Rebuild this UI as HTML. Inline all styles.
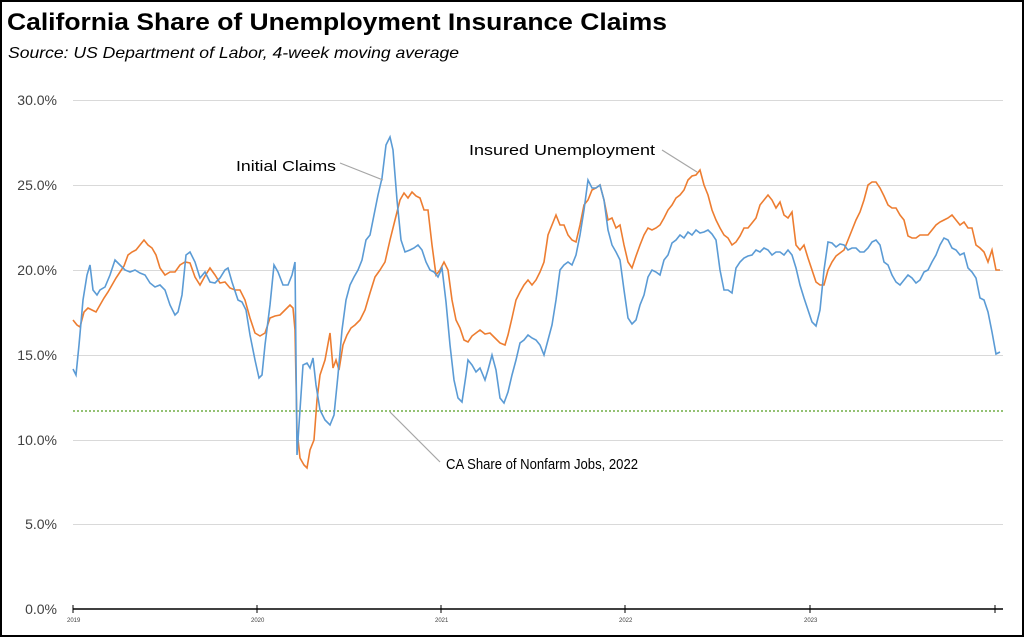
<!DOCTYPE html>
<html><head><meta charset="utf-8"><style>
body{margin:0;background:#fff}
svg{display:block}
text{font-family:"Liberation Sans",sans-serif}
</style></head><body>
<svg width="1024" height="637" viewBox="0 0 1024 637">
<rect x="1" y="1" width="1022" height="635" fill="#fff" stroke="#000" stroke-width="2"/>
<text x="7" y="30" font-size="24" font-weight="bold" textLength="660" lengthAdjust="spacingAndGlyphs">California Share of Unemployment Insurance Claims</text>
<text x="8" y="58" font-size="16" font-style="italic" textLength="451" lengthAdjust="spacingAndGlyphs">Source:  US Department of Labor, 4-week moving average</text>
<g stroke="#d9d9d9" stroke-width="1">
<line x1="73" x2="1003" y1="100.5" y2="100.5"/><line x1="73" x2="1003" y1="185.5" y2="185.5"/>
<line x1="73" x2="1003" y1="270.5" y2="270.5"/><line x1="73" x2="1003" y1="355.5" y2="355.5"/>
<line x1="73" x2="1003" y1="440.5" y2="440.5"/><line x1="73" x2="1003" y1="524.5" y2="524.5"/>
</g>
<g font-size="14" fill="#404040" text-anchor="end">
<text x="57" y="105">30.0%</text><text x="57" y="190">25.0%</text><text x="57" y="275">20.0%</text>
<text x="57" y="360">15.0%</text><text x="57" y="445">10.0%</text><text x="57" y="529">5.0%</text><text x="57" y="614">0.0%</text>
</g>
<line x1="73" x2="1003" y1="609" y2="609" stroke="#404040" stroke-width="2"/>
<g stroke="#000" stroke-width="1"><line x1="73" x2="73" y1="605" y2="613"/><line x1="257" x2="257" y1="605" y2="613"/><line x1="441" x2="441" y1="605" y2="613"/><line x1="625" x2="625" y1="605" y2="613"/><line x1="810" x2="810" y1="605" y2="613"/><line x1="995" x2="995" y1="605" y2="613"/></g>
<g font-size="6" fill="#404040"><text x="67" y="622">2019</text><text x="251" y="622">2020</text><text x="435" y="622">2021</text><text x="619" y="622">2022</text><text x="804" y="622">2023</text></g>
<line x1="73" x2="1003" y1="411" y2="411" stroke="#70ad47" stroke-width="1.5" stroke-dasharray="2,2"/>
<polyline fill="none" stroke="#ed7d31" stroke-width="1.6" points="73,320 77,325 80,327 84,312 88,308 92,310 96,312 100,305 104,298 108,292 112,285 116,278 120,272 124,266 128,255 132,252 136,250 140,245 144,240 148,245 152,248 156,255 160,268 165,275 170,272 175,272 180,265 185,262 190,263 195,277 200,285 205,276 210,268 215,275 220,283 225,282 230,288 235,290 240,290 245,300 250,318 255,333 260,336 265,333 270,318 275,316 280,315 285,310 290,305 293,308 295,330 297,430 300,458 304,465 307,468 310,450 314,440 317,400 320,375 325,360 330,333 333,368 336,360 339,370 343,345 347,335 351,328 355,325 360,320 365,310 370,293 375,277 380,270 385,262 390,240 395,220 400,200 404,193 408,198 412,192 416,196 420,198 424,210 428,210 432,245 436,275 440,270 444,262 448,270 452,300 456,320 460,328 464,340 468,342 472,336 476,333 480,330 485,334 490,333 495,338 500,343 505,345 508,335 512,318 516,300 520,292 524,285 528,280 532,285 536,280 540,272 544,262 548,235 552,225 556,215 560,225 564,225 568,235 572,240 576,242 580,225 584,205 588,200 592,190 596,188 600,185 604,200 608,220 612,218 616,228 620,225 624,245 628,262 632,268 636,256 640,245 644,235 648,228 652,230 656,228 660,225 664,218 668,210 672,205 676,198 680,195 684,190 688,180 692,176 696,175 700,170 704,185 708,195 712,210 716,220 720,228 724,235 728,238 732,245 736,242 740,236 744,228 748,228 752,223 756,218 760,205 764,200 768,195 772,200 776,208 780,202 784,215 788,218 792,212 796,245 800,250 804,245 808,258 812,270 816,282 820,285 824,285 828,270 832,262 836,256 840,253 844,250 848,240 852,230 856,220 860,212 864,200 868,185 872,182 876,182 880,188 884,196 888,205 892,208 896,208 900,215 904,220 908,236 912,238 916,238 920,235 924,235 928,235 932,230 936,225 940,222 944,220 948,218 952,215 956,220 960,225 964,222 968,228 972,228 976,245 980,248 984,252 988,262 992,250 996,270 1000,270"/>
<polyline fill="none" stroke="#5b9bd5" stroke-width="1.6" points="73,369 76,375 79,345 83,300 87,275 90,265 93,290 97,295 100,290 105,287 110,275 115,260 120,265 125,270 130,272 135,270 140,273 145,275 150,283 155,287 160,285 165,290 170,305 175,315 178,312 182,295 186,255 190,252 195,262 200,278 205,272 210,282 215,283 220,278 225,270 228,268 232,282 238,300 242,302 246,310 250,335 255,360 259,378 262,375 265,345 270,305 274,265 278,272 283,285 288,285 292,275 295,262 297,455 299,425 303,365 307,363 310,368 313,358 316,385 320,410 325,420 330,425 334,415 338,375 342,330 346,300 350,285 354,277 358,270 362,260 366,240 370,235 374,215 378,195 382,178 386,145 390,137 393,150 397,200 401,240 405,252 410,250 414,248 418,245 422,250 426,262 430,270 434,272 438,277 442,268 446,302 450,345 454,380 458,398 462,402 466,375 468,360 472,365 476,372 480,368 485,380 488,370 492,355 496,370 500,398 504,403 508,392 512,375 516,360 520,343 524,340 528,335 532,338 536,340 540,345 544,355 548,340 552,325 556,300 560,270 564,265 568,262 572,265 576,255 580,235 584,210 588,180 592,188 596,188 600,185 604,200 608,230 612,245 616,252 620,260 624,290 628,318 632,324 636,320 640,305 644,295 648,277 652,270 656,272 660,275 664,260 668,255 672,243 676,240 680,235 684,238 688,232 692,235 696,230 700,233 704,232 708,230 712,234 716,240 720,270 724,290 728,290 732,293 736,268 740,262 744,258 748,256 752,255 756,250 760,252 764,248 768,250 772,255 776,252 780,252 784,255 788,250 792,255 796,268 800,285 804,298 808,310 812,322 816,326 820,310 824,270 828,242 832,243 836,247 840,244 844,245 848,250 852,248 856,248 860,252 864,252 868,248 872,242 876,240 880,245 884,262 888,265 892,275 896,282 900,285 904,280 908,275 912,278 916,283 920,280 924,272 928,270 932,262 936,255 940,245 944,238 948,240 952,248 956,250 960,255 964,253 968,268 972,272 976,278 980,298 984,300 988,312 992,332 996,354 1000,352"/>
<g stroke="#a6a6a6" stroke-width="1.2" fill="none">
<line x1="340" y1="163" x2="383" y2="180"/><line x1="662" y1="150" x2="697" y2="172"/><line x1="390" y1="412" x2="440" y2="462"/>
</g>
<g font-size="15" fill="#000">
<text x="236" y="171" textLength="100" lengthAdjust="spacingAndGlyphs">Initial Claims</text><text x="469" y="155" textLength="186" lengthAdjust="spacingAndGlyphs">Insured Unemployment</text><text x="446" y="469" textLength="192" lengthAdjust="spacingAndGlyphs">CA Share of Nonfarm Jobs, 2022</text>
</g>
</svg>
</body></html>
